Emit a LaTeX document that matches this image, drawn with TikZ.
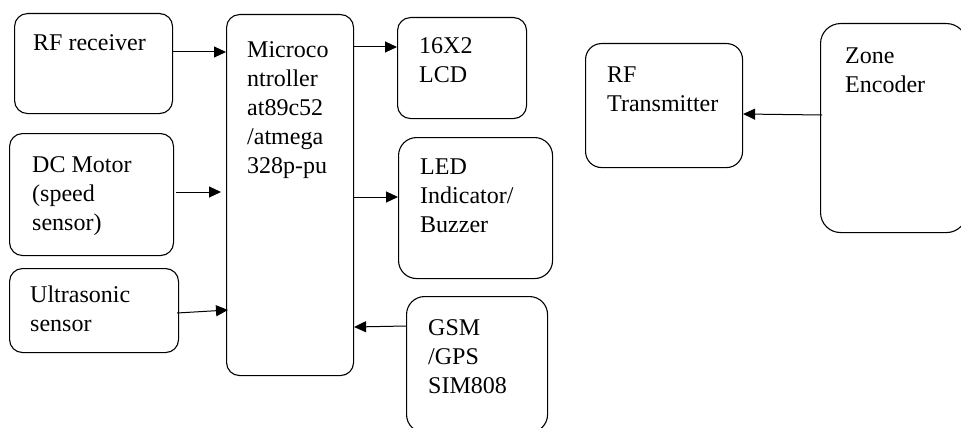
\documentclass[tikz,border=0pt]{standalone}
\usepackage{fontspec}
\setmainfont{Liberation Serif}
\usetikzlibrary{arrows.meta,positioning}
\tikzset{
  blk/.style={draw, line width=1.1pt, rounded corners=13pt, inner sep=0pt, anchor=north west},
  txt/.style={align=left, inner sep=0pt, font=\fontsize{24}{29}\selectfont},
  arr/.style={-{Triangle[length=12pt,width=11pt]}, line width=1pt}
}
\begin{document}
\begin{tikzpicture}[x=1pt, y=-1pt]
      \useasboundingbox (0,0) rectangle (961,428);

      % Blocks on the left
      \node[blk, minimum width=158, minimum height=100] (rfrx) at (14,13) {};
      \node[blk, minimum width=164, minimum height=122] (dcm) at (9,133) {};
      \node[blk, minimum width=169, minimum height=84] (ultra) at (9,268) {};

      % Controller
      \node[blk, minimum width=127, minimum height=361] (mcu) at (226,14) {};

      % Blocks on the right of the controller
      \node[blk, minimum width=129, minimum height=101] (lcd) at (397,17) {};
      \node[blk, rounded corners=18pt, minimum width=154, minimum height=141] (led) at (398,137) {};
      \node[blk, rounded corners=18pt, minimum width=141, minimum height=136] (gsm) at (406,296) {};

      % Transmitter side
      \node[blk, rounded corners=16pt, minimum width=157, minimum height=124] (rftx) at (585,43) {};
      \node[blk, rounded corners=20pt, minimum width=146, minimum height=209] (zone) at (820,23) {};

      % Texts
      \node[txt, anchor=north west] (rfrxt) at (33,34) {RF receiver};
      \node[txt, anchor=north west] (dcmt) at (32,156) {DC Motor\\(speed\\sensor)};
      \node[txt, anchor=north west] (ultrat) at (30,286) {Ultrasonic\\sensor};
      \node[txt, anchor=north west] (mcut) at (247,41) {Microco\\ntroller\\at89c52\\/atmega\\328p-pu};
      \node[txt, anchor=north west] (lcdt) at (419,37) {16X2\\LCD};
      \node[txt, anchor=north west] (ledt) at (420,159) {LED\\Indicator/\\Buzzer};
      \node[txt, anchor=north west] (gsmt) at (428,319) {GSM\\/GPS\\SIM808};
      \node[txt, anchor=north west] (rftxt) at (607,67) {RF\\Transmitter};
      \node[txt, anchor=north west] (zonet) at (845,48) {Zone\\Encoder};

      % Connectors
      \draw[arr] (rfrx.east |- 0,52) -- (mcu.west |- 0,52);
      \draw[arr, shorten >=5pt] ([xshift=2pt]dcm.east |- 0,192) -- (mcu.west |- 0,192);
      \draw[arr] ([xshift=-2pt]ultra.east |- 0,313) -- ([xshift=2pt]mcu.west |- 0,310);
      \draw[arr] (gsm.west |- 0,326) -- (mcu.east |- 0,327);
      \draw[arr] (mcu.east |- 0,47) -- (lcd.west |- 0,47);
      \draw[arr] (mcu.east |- 0,197) -- (led.west |- 0,197);
      \draw[arr] ([xshift=2pt]zone.west |- 0,115) -- (rftx.east |- 0,114);
\end{tikzpicture}
\end{document}
